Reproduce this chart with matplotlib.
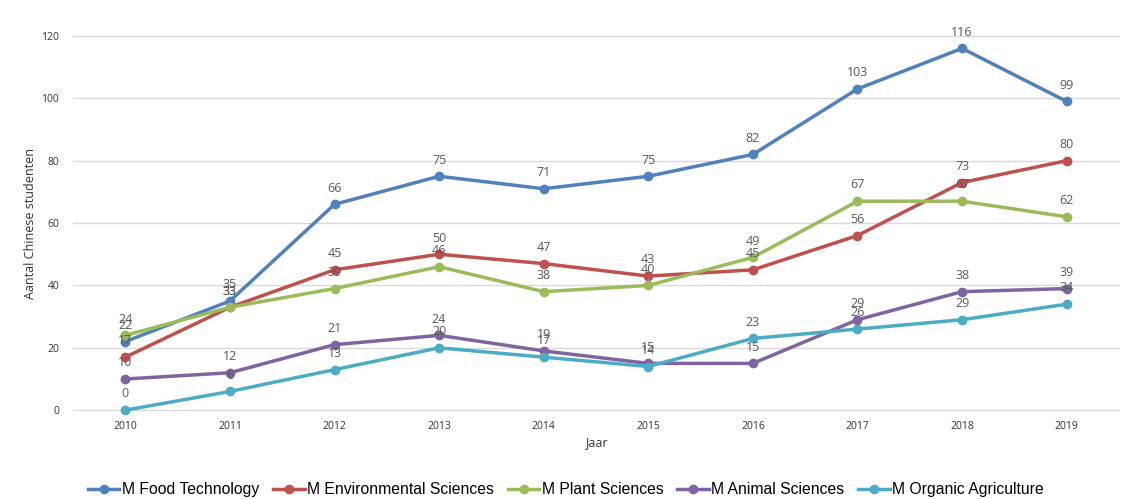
import numpy as np
import matplotlib.pyplot as plt

years = [2010, 2011, 2012, 2013, 2014, 2015, 2016, 2017, 2018, 2019]
food = [22, 35, 66, 75, 71, 75, 82, 103, 116, 99]
env = [17, 33, 45, 50, 47, 43, 45, 56, 73, 80]
plant = [24, 33, 39, 46, 38, 40, 49, 67, 67, 62]
animal = [10, 12, 21, 24, 19, 15, 15, 29, 38, 39]
organic = [0, 6, 13, 20, 17, 14, 23, 26, 29, 34]

names = ["M Food Technology", "M Environmental Sciences", "M Plant Sciences",
         "M Animal Sciences", "M Organic Agriculture"]
colors = ["#4F81BD", "#C0504D", "#9BBB59", "#8064A2", "#4BACC6"]
series = [food, env, plant, animal, organic]

plt.rcParams['font.family'] = ['Open Sans', 'DejaVu Sans']

fig = plt.figure(figsize=(11.32, 4.99), dpi=100)
ax = fig.add_axes([0.0645, 0.178, 0.924, 0.75])

x = np.arange(len(years))
for vals, name, c in zip(series, names, colors):
    ax.plot(x, vals, color=c, lw=2.5, marker='o', ms=6, label=name, clip_on=False)
    for xi, v in zip(x, vals):
        ax.annotate(str(v), (xi, v), xytext=(0, 7), textcoords='offset points',
                    ha='center', va='bottom', fontsize=9, color='#595959')

ax.set_xlim(-0.5, len(years) - 0.5)
ax.set_ylim(0, 120)
ax.set_yticks(range(0, 121, 20))
ax.set_xticks(x)
ax.set_xticklabels([str(y) for y in years])
ax.tick_params(axis='both', length=0, labelsize=7.5, colors='#333333')
ax.tick_params(axis='y', pad=10)
ax.tick_params(axis='x', pad=8)
ax.grid(axis='y', color='#D9D9D9', lw=1)
for gl in ax.get_ygridlines():
    gl.set_clip_on(False)
ax.set_axisbelow(True)
for s in ax.spines.values():
    s.set_visible(False)
ax.set_xlabel("Jaar", fontsize=9, color='#333333', labelpad=3)
ax.set_ylabel("Aantal Chinese studenten", fontsize=9, color='#333333', labelpad=3)

fig.legend(loc='lower center', bbox_to_anchor=(0.5, -0.025), ncol=5, frameon=False,
           handlelength=2.0, handletextpad=0.15, columnspacing=0.9,
           prop={'family': ['Liberation Sans Narrow', 'Liberation Sans', 'DejaVu Sans'], 'size': 11.3})

fig.savefig("out.png", dpi=100)
